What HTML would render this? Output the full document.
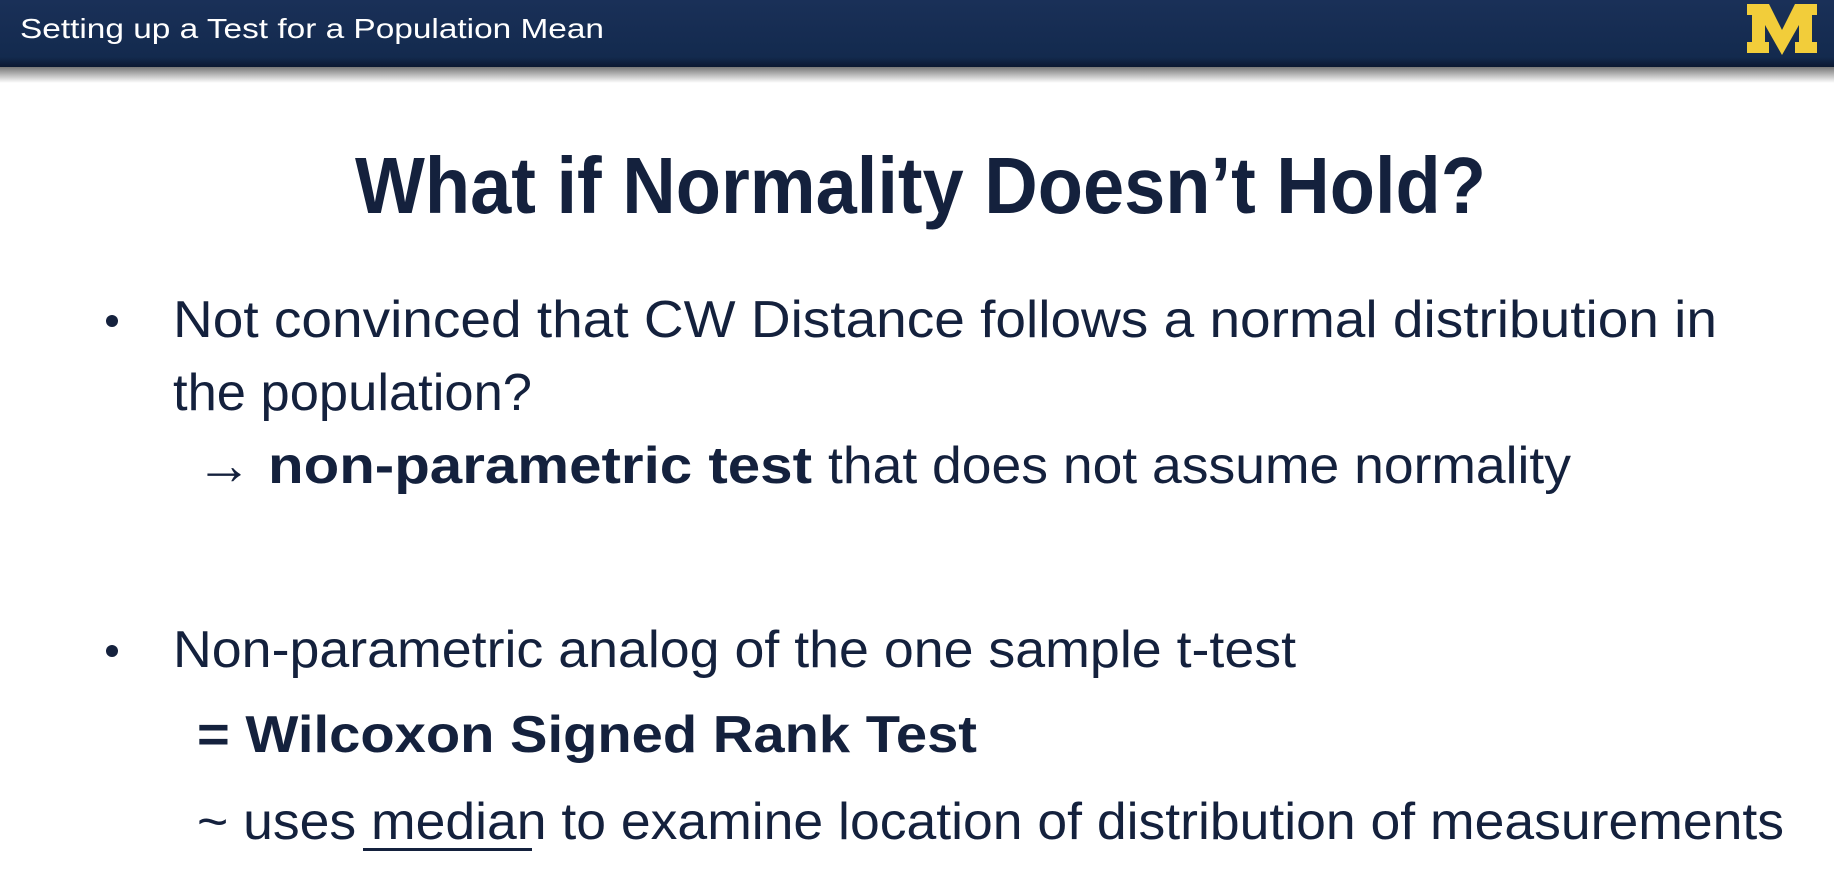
<!DOCTYPE html>
<html><head><meta charset="utf-8">
<style>
html,body{margin:0;padding:0;width:1834px;height:882px;overflow:hidden;background:#fff;}
svg{display:block}
text{font-family:"Liberation Sans",sans-serif;fill:#14213d;}
</style></head>
<body>
<svg width="1834" height="882" viewBox="0 0 1834 882">
<defs>
<linearGradient id="hdr" x1="0" y1="0" x2="0" y2="1">
<stop offset="0" stop-color="#1a3058"/><stop offset="0.85" stop-color="#132a4e"/><stop offset="1" stop-color="#0b1830"/>
</linearGradient>
<linearGradient id="shd" x1="0" y1="0" x2="0" y2="1">
<stop offset="0" stop-color="#777"/><stop offset="1" stop-color="#fff"/>
</linearGradient>
</defs>
<g>
<rect x="0" y="0" width="1834" height="67" fill="url(#hdr)"/>
<rect x="0" y="67" width="1834" height="16" fill="url(#shd)"/>
<text x="20" y="38" font-size="28" style="fill:#fff" textLength="584" lengthAdjust="spacingAndGlyphs">Setting up a Test for a Population Mean</text>
<g fill="#f2cd3a">
<path d="M1747 4 h22 l13 26 l13 -26 h22 v11 h-5 v27 h5 v11 h-22 v-11 h4 v-17 l-17 30 l-17 -30 v17 h4 v11 h-22 v-11 h5 v-27 h-5 z"/>
</g>
</g>
<text x="355" y="213" font-size="80" font-weight="bold" textLength="1131" lengthAdjust="spacingAndGlyphs">What if Normality Doesn’t Hold?</text>

<circle cx="112" cy="321" r="6" fill="#14213d"/>
<text x="173" y="337" font-size="52" textLength="1544" lengthAdjust="spacingAndGlyphs">Not convinced that CW Distance follows a normal distribution in</text>
<text x="173" y="410" font-size="52" textLength="359" lengthAdjust="spacingAndGlyphs">the population?</text>
<text x="196" y="484" font-size="56">→</text>
<text x="268" y="483" font-size="52" font-weight="bold" textLength="544" lengthAdjust="spacingAndGlyphs">non-parametric test</text>
<text x="828" y="483" font-size="52" textLength="743" lengthAdjust="spacingAndGlyphs">that does not assume normality</text>

<circle cx="112" cy="651" r="6" fill="#14213d"/>
<text x="173" y="667" font-size="52" textLength="1123" lengthAdjust="spacingAndGlyphs">Non-parametric analog of the one sample t-test</text>
<text x="197" y="752" font-size="52" font-weight="bold" textLength="780" lengthAdjust="spacingAndGlyphs">= Wilcoxon Signed Rank Test</text>
<text x="197" y="839" font-size="52" textLength="1587" lengthAdjust="spacingAndGlyphs">~ uses median to examine location of distribution of measurements</text>
<rect x="363" y="848" width="169" height="3" fill="#14213d"/>
</svg>
</body></html>
